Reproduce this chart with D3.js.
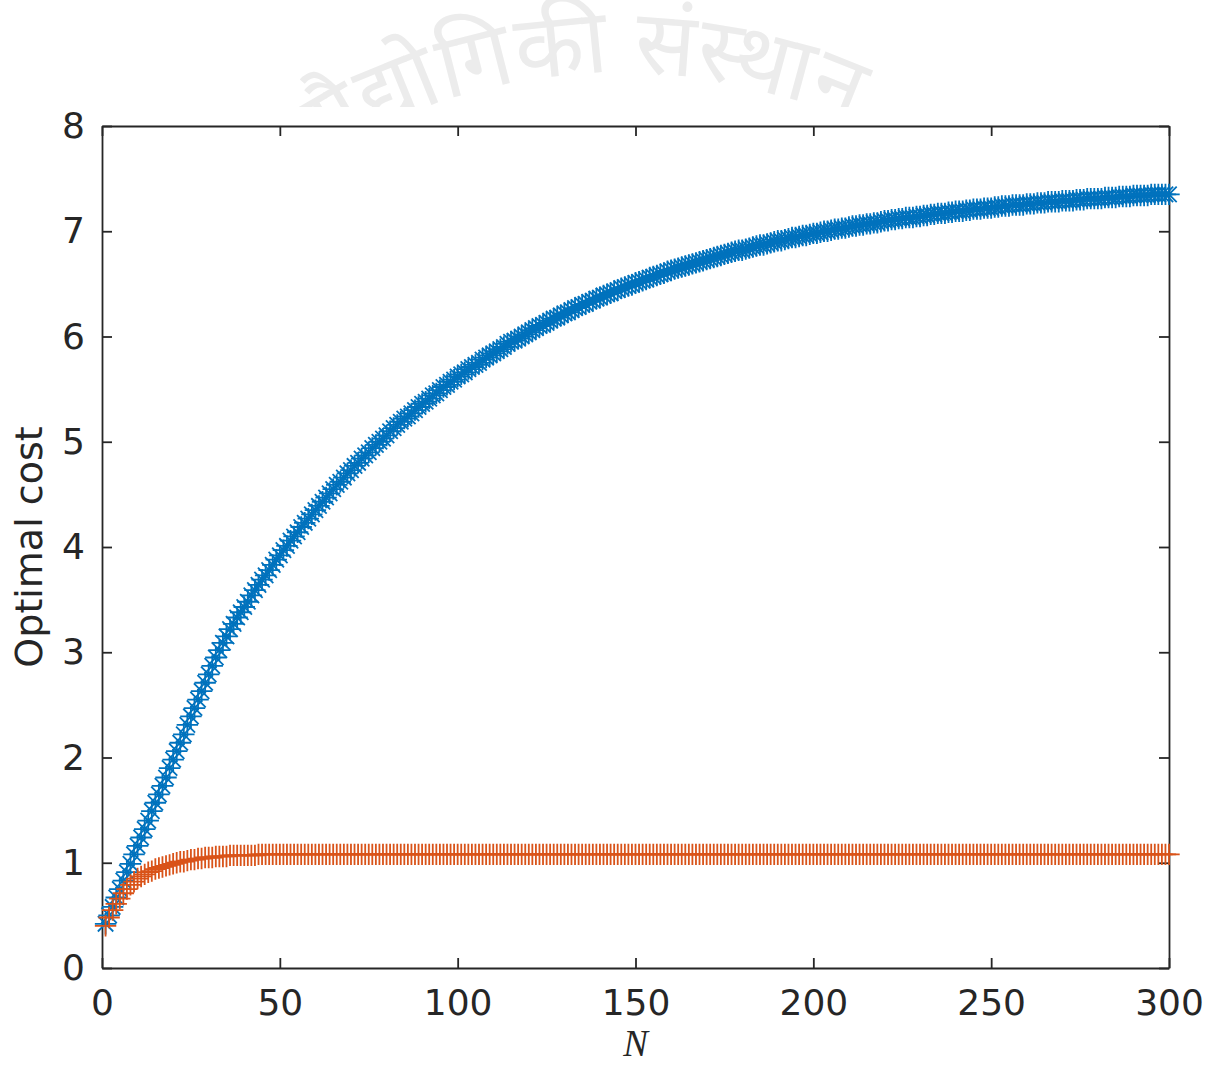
<!DOCTYPE html>
<html>
<head>
<meta charset="utf-8">
<script src="https://cdn.jsdelivr.net/npm/d3@7"></script>
<style>
  html, body { margin: 0; padding: 0; background: #fff; }
  svg { display: block; font-family: "DejaVu Sans", sans-serif; }
</style>
</head>
<body>
<svg id="chart" width="1210" height="1065"></svg>
<script>
// optimal cost vs N (one marker per N = 1..300)
const X_TICKS = [0, 50, 100, 150, 200, 250, 300];
const Y_TICKS = [0, 1, 2, 3, 4, 5, 6, 7, 8];

const COST_STAR = [
  0.42,0.50,0.58,0.67,0.75,0.83,0.91,0.99,1.08,1.16,1.24,1.32,1.40,1.49,1.57,1.65,1.73,1.81,1.90,1.98,
  2.06,2.14,2.22,2.31,2.39,2.47,2.55,2.63,2.71,2.79,2.87,2.95,3.02,3.09,3.15,
  3.22,3.27,3.33,3.38,3.43,3.48,3.54,3.59,3.64,3.69,3.73,3.78,3.83,3.88,3.92,
  3.97,4.01,4.06,4.10,4.14,4.19,4.23,4.27,4.31,4.35,
  4.39,4.43,4.47,4.51,4.55,4.59,4.62,4.66,4.70,4.73,
  4.77,4.80,4.84,4.87,4.90,4.94,4.97,5.00,5.03,5.06,
  5.10,5.13,5.16,5.19,5.22,5.24,5.27,5.30,5.33,5.36,
  5.38,5.41,5.44,5.46,5.49,5.52,5.54,5.57,5.59,5.62,
  5.64,5.66,5.69,5.71,5.73,5.75,5.78,5.80,5.82,5.84,
  5.86,5.88,5.90,5.93,5.95,5.96,5.98,6.00,6.02,6.04,
  6.06,6.08,6.10,6.11,6.13,6.15,6.17,6.18,6.20,6.22,
  6.23,6.25,6.27,6.28,6.30,6.31,6.33,6.34,6.36,6.37,
  6.39,6.40,6.41,6.43,6.44,6.46,6.47,6.48,6.49,6.51,
  6.52,6.53,6.54,6.56,6.57,6.58,6.59,6.60,6.62,6.63,
  6.64,6.65,6.66,6.67,6.68,6.69,6.70,6.71,6.72,6.73,
  6.74,6.75,6.76,6.77,6.78,6.79,6.80,6.81,6.82,6.82,
  6.83,6.84,6.85,6.86,6.87,6.87,6.88,6.89,6.90,6.91,
  6.91,6.92,6.93,6.94,6.94,6.95,6.96,6.96,6.97,6.98,
  6.98,6.99,7.00,7.00,7.01,7.02,7.02,7.03,7.03,7.04,
  7.05,7.05,7.06,7.06,7.07,7.07,7.08,7.08,7.09,7.10,
  7.10,7.11,7.11,7.12,7.12,7.13,7.13,7.13,7.14,7.14,
  7.15,7.15,7.16,7.16,7.17,7.17,7.17,7.18,7.18,7.19,
  7.19,7.19,7.20,7.20,7.21,7.21,7.21,7.22,7.22,7.22,
  7.23,7.23,7.24,7.24,7.24,7.25,7.25,7.25,7.25,7.26,
  7.26,7.26,7.27,7.27,7.27,7.28,7.28,7.28,7.28,7.29,
  7.29,7.29,7.29,7.30,7.30,7.30,7.31,7.31,7.31,7.31,
  7.31,7.32,7.32,7.32,7.32,7.33,7.33,7.33,7.33,7.34,
  7.34,7.34,7.34,7.34,7.35,7.35,7.35,7.35,7.35,7.35
];

const COST_PLUS = [
  0.40,0.48,0.55,0.61,0.66,0.71,0.75,0.79,0.82,0.85,0.87,0.89,0.91,0.92,0.94,0.95,0.96,0.97,0.98,0.99,
  1.00,1.01,1.01,1.02,1.03,1.03,1.04,1.04,1.05,1.05,1.05,1.06,1.06,1.06,1.06,1.07,1.07,1.07,1.07,1.07,
  1.07,1.07,1.07,1.08,1.08,1.08,1.08,1.08,1.08,1.08,1.08,1.08,1.08,1.08,1.08,1.08,1.08,1.08,1.08,1.08,
  1.08,1.08,1.08,1.08,1.08,1.08,1.08,1.08,1.08,1.08,1.08,1.08,1.08,1.08,1.08,1.08,1.08,1.08,1.08,1.08,
  1.08,1.08,1.08,1.08,1.08,1.08,1.08,1.08,1.08,1.08,1.08,1.08,1.08,1.08,1.08,1.08,1.08,1.08,1.08,1.08,
  1.08,1.08,1.08,1.08,1.08,1.08,1.08,1.08,1.08,1.08,1.08,1.08,1.08,1.08,1.08,1.08,1.08,1.08,1.08,1.08,
  1.08,1.08,1.08,1.08,1.08,1.08,1.08,1.08,1.08,1.08,1.08,1.08,1.08,1.08,1.08,1.08,1.08,1.08,1.08,1.08,
  1.08,1.08,1.08,1.08,1.08,1.08,1.08,1.08,1.08,1.08,1.08,1.08,1.08,1.08,1.08,1.08,1.08,1.08,1.08,1.08,
  1.08,1.08,1.08,1.08,1.08,1.08,1.08,1.08,1.08,1.08,1.08,1.08,1.08,1.08,1.08,1.08,1.08,1.08,1.08,1.08,
  1.08,1.08,1.08,1.08,1.08,1.08,1.08,1.08,1.08,1.08,1.08,1.08,1.08,1.08,1.08,1.08,1.08,1.08,1.08,1.08,
  1.08,1.08,1.08,1.08,1.08,1.08,1.08,1.08,1.08,1.08,1.08,1.08,1.08,1.08,1.08,1.08,1.08,1.08,1.08,1.08,
  1.08,1.08,1.08,1.08,1.08,1.08,1.08,1.08,1.08,1.08,1.08,1.08,1.08,1.08,1.08,1.08,1.08,1.08,1.08,1.08,
  1.08,1.08,1.08,1.08,1.08,1.08,1.08,1.08,1.08,1.08,1.08,1.08,1.08,1.08,1.08,1.08,1.08,1.08,1.08,1.08,
  1.08,1.08,1.08,1.08,1.08,1.08,1.08,1.08,1.08,1.08,1.08,1.08,1.08,1.08,1.08,1.08,1.08,1.08,1.08,1.08,
  1.08,1.08,1.08,1.08,1.08,1.08,1.08,1.08,1.08,1.08,1.08,1.08,1.08,1.08,1.08,1.08,1.08,1.08,1.08,1.08
];

const BLUE = "#0072BD", ORANGE = "#D95319", AXIS = "#262626";

const margin = { top: 126, right: 41, bottom: 97, left: 102 };
const totalW = 1210, totalH = 1065;
const W = totalW - margin.left - margin.right, H = totalH - margin.top - margin.bottom;

const root = d3.select("#chart");

// faded institute watermark, only its upper part shows above the axes
const wm = root.append("g");
wm.append("defs").append("clipPath").attr("id", "wm-clip")
  .append("rect").attr("x", 0).attr("y", 0).attr("width", totalW).attr("height", 107);
wm.append("path").attr("id", "wm-arc").attr("fill", "none")
  .attr("d", "M100,425 A560,560 0 0 1 1140,425");
wm.append("text").attr("clip-path", "url(#wm-clip)")
  .style("font-family", "'Noto Sans Devanagari','Noto Sans',sans-serif")
  .style("font-size", "90px").style("fill", "#ececec")
  .append("textPath").attr("href", "#wm-arc").attr("startOffset", "46.5%")
  .attr("text-anchor", "middle").text("प्रौद्योगिकी संस्थान");

const svg = root.append("g").attr("transform", `translate(${margin.left},${margin.top})`);

const x = d3.scaleLinear().domain([0, 300]).range([0, W]);
const y = d3.scaleLinear().domain([0, 8]).range([H, 0]);

const styleAxis = g => {
  g.select(".domain").attr("stroke", AXIS).attr("stroke-width", 1.8);
  g.selectAll(".tick line").attr("stroke", AXIS).attr("stroke-width", 1.8);
  g.selectAll(".tick text").style("font-size", "36px").style("fill", AXIS)
    .style("font-family", "'DejaVu Sans',sans-serif");
};

svg.append("g").attr("transform", `translate(0,${H})`)
  .call(d3.axisBottom(x).tickValues(X_TICKS).tickSizeInner(-10).tickSizeOuter(0).tickPadding(21))
  .call(styleAxis);
svg.append("g")
  .call(d3.axisTop(x).tickValues(X_TICKS).tickSizeInner(-10).tickSizeOuter(0).tickFormat(""))
  .call(styleAxis);
svg.append("g")
  .call(d3.axisLeft(y).tickValues(Y_TICKS).tickSizeInner(-10).tickSizeOuter(0).tickPadding(17))
  .call(styleAxis);
svg.append("g").attr("transform", `translate(${W},0)`)
  .call(d3.axisRight(y).tickValues(Y_TICKS).tickSizeInner(-10).tickSizeOuter(0).tickFormat(""))
  .call(styleAxis);

// markers: asterisk for the first series, plus for the second (drawn on top)
const r = 10.7, d = r * 0.72;
const starPath = `M${-r},0H${r}M0,${-r}V${r}M${-d},${-d}L${d},${d}M${-d},${d}L${d},${-d}`;
const plusPath = `M${-r},0H${r}M0,${-r}V${r}`;

svg.append("g").selectAll("path").data(COST_STAR).enter().append("path")
  .attr("transform", (v, i) => `translate(${x(i + 1)},${y(v)})`)
  .attr("d", starPath).attr("fill", "none").attr("stroke", BLUE).attr("stroke-width", 1.8);

svg.append("g").selectAll("path").data(COST_PLUS).enter().append("path")
  .attr("transform", (v, i) => `translate(${x(i + 1)},${y(v)})`)
  .attr("d", plusPath).attr("fill", "none").attr("stroke", ORANGE).attr("stroke-width", 1.8);

// axis labels
root.append("text").attr("transform", `translate(42,${margin.top + H / 2}) rotate(-90)`)
  .attr("text-anchor", "middle").style("font-size", "38px").style("fill", AXIS)
  .text("Optimal cost");
root.append("text").attr("x", margin.left + W / 2).attr("y", 1056)
  .attr("text-anchor", "middle").style("font-family", "'Liberation Serif',serif")
  .style("font-style", "italic").style("font-size", "37px").style("fill", AXIS)
  .text("N");
</script>
</body>
</html>
